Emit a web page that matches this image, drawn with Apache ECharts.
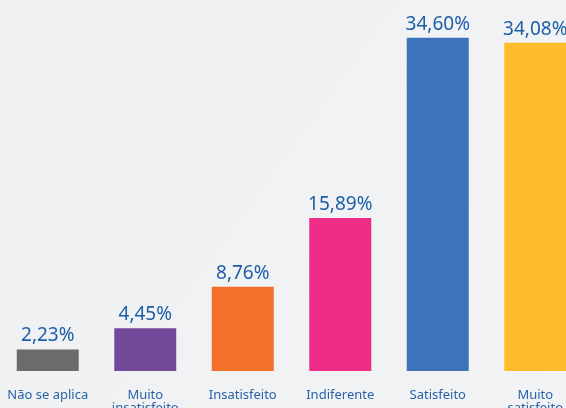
<!DOCTYPE html>
<html>
<head>
<meta charset="utf-8">
<script src="https://cdn.jsdelivr.net/npm/echarts@6/dist/echarts.min.js"></script>
<style>
  html, body { margin: 0; padding: 0; background: #f0f1f3; }
  #chart { width: 566px; height: 408px; }
</style>
</head>
<body>
<div id="chart"></div>
<script>
const categories = ['Não se aplica', 'Muito\ninsatisfeito', 'Insatisfeito', 'Indiferente', 'Satisfeito', 'Muito\nsatisfeito'];
const values = [2.23, 4.45, 8.76, 15.89, 34.60, 34.08];
const barColors = ['#6b6b6b', '#734a9a', '#f3702b', '#ee2d87', '#3c73ba', '#fdbd2a'];

const chart = echarts.init(document.getElementById('chart'));

chart.setOption({
  backgroundColor: new echarts.graphic.LinearGradient(0, 0, 1, 1, [
    { offset: 0, color: '#eff0f2' },
    { offset: 1, color: '#f2f3f5' }
  ]),
  animation: false,
  grid: {
    left: -1,
    top: 5,
    width: 585,
    height: 366,
    containLabel: false,
    outerBoundsMode: 'none'
  },
  xAxis: {
    type: 'category',
    data: categories,
    axisLine: { show: false },
    axisTick: { show: false },
    axisLabel: {
      interval: 0,
      margin: 18,
      color: '#2a62a8',
      fontFamily: 'Noto Sans',
      fontSize: 13,
      lineHeight: 13
    }
  },
  yAxis: {
    type: 'value',
    min: 0,
    max: 38,
    show: false,
    splitLine: { show: false }
  },
  series: [{
    type: 'bar',
    barWidth: 62,
    data: values.map((v, i) => ({ value: v, itemStyle: { color: barColors[i] } })),
    label: {
      show: true,
      position: 'top',
      distance: 4,
      color: '#1d5ea8',
      fontFamily: 'Noto Sans',
      fontSize: 19,
      formatter: (p) => p.value.toFixed(2).replace('.', ',') + '%'
    }
  }]
});
</script>
</body>
</html>
